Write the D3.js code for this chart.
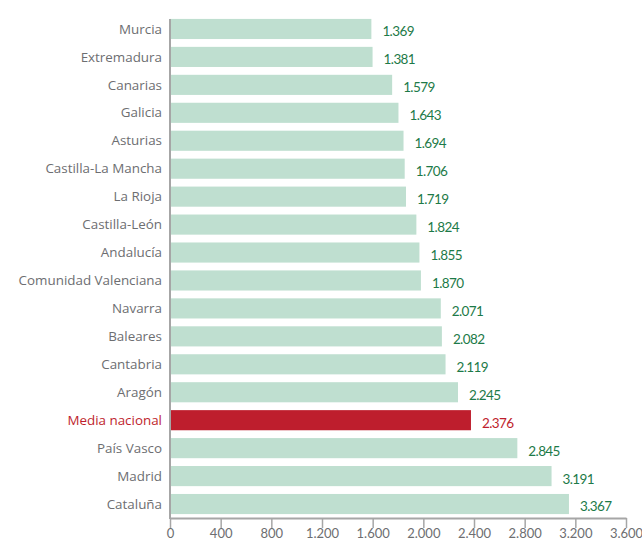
<!DOCTYPE html>
<html>
<head>
<meta charset="utf-8">
<script src="https://cdn.jsdelivr.net/npm/d3@7"></script>
<style>
  html, body { margin: 0; padding: 0; background: #fff; }
  svg { display: block; }
</style>
</head>
<body>
<div id="chart"></div>
<script>
// data
const regions = [
  "Murcia", "Extremadura", "Canarias", "Galicia", "Asturias",
  "Castilla-La Mancha", "La Rioja", "Castilla-León", "Andalucía",
  "Comunidad Valenciana", "Navarra", "Baleares", "Cantabria", "Aragón",
  "Media nacional", "País Vasco", "Madrid", "Cataluña"
];
const values = [
  1369, 1381, 1579, 1643, 1694, 1706, 1719, 1824, 1855,
  1870, 2071, 2082, 2119, 2245, 2376, 2845, 3191, 3367
];
const highlight = "Media nacional";
const xTicks = [0, 400, 800, 1200, 1600, 2000, 2400, 2800, 3200, 3600];

const width = 642, height = 540;
const margin = { top: 15, right: 16, bottom: 22, left: 170 };
const innerW = width - margin.left - margin.right;
const innerH = height - margin.top - margin.bottom;

const green = "#bfdfd0", red = "#be1e2d";
const valGreen = "#1d7a48", grey = "#6d6e71", axisGrey = "#a6a6a6";

// spanish thousands separator
const fmt = d => d3.format(",")(d).replace(/,/g, ".");

const data = regions.map((r, i) => ({ name: r, value: values[i] }));

const svg = d3.select("#chart").append("svg")
  .attr("width", width)
  .attr("height", height);

const g = svg.append("g")
  .attr("transform", `translate(${margin.left},${margin.top})`);

// axis scale
const x = d3.scaleLinear().domain([0, 3600]).range([0, innerW]);
// the original chart draws its bars on a shifted scale, kept as in the picture
const xBar = d3.scaleLinear().domain([0, 3600]).range([66, 422]);

const y = d3.scaleBand()
  .domain(regions)
  .range([0, innerH])
  .paddingInner(0.28)
  .paddingOuter(0.14);

//--- bars
g.selectAll("rect.bar")
  .data(data)
  .join("rect")
  .attr("class", "bar")
  .attr("x", 0)
  .attr("y", d => y(d.name))
  .attr("width", d => xBar(d.value))
  .attr("height", y.bandwidth())
  .attr("fill", d => d.name === highlight ? red : green);

//--- value labels
g.selectAll("text.val")
  .data(data)
  .join("text")
  .attr("class", "val")
  .attr("x", d => xBar(d.value) + 11)
  .attr("y", d => y(d.name) + y.bandwidth() / 2)
  .attr("dy", "0.55em")
  .attr("font-family", "Lato, sans-serif")
  .attr("font-size", 13.5)
  .attr("letter-spacing", -0.6)
  .attr("fill", d => d.name === highlight ? red : valGreen)
  .text(d => fmt(d.value));

//--- category labels
g.selectAll("text.cat")
  .data(data)
  .join("text")
  .attr("class", "cat")
  .attr("x", -8)
  .attr("y", d => y(d.name) + y.bandwidth() / 2)
  .attr("dy", "0.35em")
  .attr("text-anchor", "end")
  .attr("font-family", "'Open Sans', sans-serif")
  .attr("font-size", 13.4)
  .attr("fill", d => d.name === highlight ? red : grey)
  .text(d => d.name);

//--- y axis line
g.append("line")
  .attr("x1", 0).attr("x2", 0)
  .attr("y1", y(regions[0])).attr("y2", innerH + 1)
  .attr("stroke", axisGrey)
  .attr("stroke-width", 2);

//--- x axis
const xAxis = g.append("g")
  .attr("transform", `translate(0,${innerH})`)
  .call(d3.axisBottom(x).tickValues(xTicks).tickFormat(fmt).tickSize(10).tickSizeOuter(0));

xAxis.select(".domain").attr("stroke", axisGrey).attr("stroke-width", 2);
xAxis.selectAll(".tick line").attr("stroke", axisGrey).attr("stroke-width", 1.5);
xAxis.selectAll(".tick text")
  .attr("y", 11)
  .attr("font-family", "Lato, sans-serif")
  .attr("font-size", 13)
  .attr("fill", grey);
</script>
</body>
</html>
